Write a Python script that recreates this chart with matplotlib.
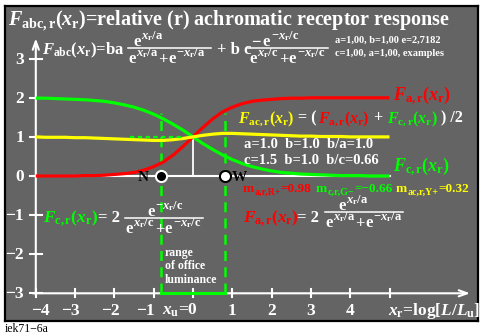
import matplotlib
matplotlib.use('Agg')
import matplotlib.pyplot as plt
from matplotlib.lines import Line2D

plt.rcParams['mathtext.fontset'] = 'custom'
plt.rcParams['mathtext.rm'] = 'Liberation Serif:bold'
plt.rcParams['mathtext.it'] = 'Liberation Serif:italic:bold'
plt.rcParams['mathtext.bf'] = 'Liberation Serif:bold'
plt.rcParams['font.family'] = ['Liberation Serif', 'DejaVu Serif']
plt.rcParams['font.weight'] = 'bold'

# ---------------- data ----------------
x_r = [-4.0, -3.75, -3.5, -3.25, -3.0, -2.75, -2.5, -2.25, -2.0, -1.75, -1.5, -1.25,
       -1.0, -0.75, -0.5, -0.25, 0.0, 0.25, 0.5, 0.75, 1.0, 1.25, 1.5, 1.75, 2.0,
       2.25, 2.5, 2.75, 3.0, 3.25, 3.5, 3.75, 4.0, 4.25, 4.5, 4.75, 5.0]
F_a = [0.00, 0.00, 0.00, 0.00, 0.00, 0.01, 0.01, 0.02, 0.04, 0.06, 0.09, 0.15,
       0.24, 0.36, 0.54, 0.76, 1.00, 1.24, 1.46, 1.64, 1.76, 1.85, 1.91, 1.94, 1.96,
       1.98, 1.99, 1.99, 2.00, 2.00, 2.00, 2.00, 2.00, 2.00, 2.00, 2.00, 2.00]
F_c = [1.99, 1.99, 1.98, 1.97, 1.96, 1.95, 1.93, 1.91, 1.87, 1.82, 1.76, 1.68,
       1.58, 1.46, 1.32, 1.17, 1.00, 0.83, 0.68, 0.54, 0.42, 0.32, 0.24, 0.18, 0.13,
       0.09, 0.07, 0.05, 0.04, 0.03, 0.02, 0.01, 0.01, 0.01, 0.00, 0.00, 0.00]
F_ac = [1.00, 0.99, 0.99, 0.99, 0.98, 0.98, 0.97, 0.96, 0.95, 0.94, 0.93, 0.92,
        0.91, 0.91, 0.93, 0.96, 1.00, 1.04, 1.07, 1.09, 1.09, 1.08, 1.07, 1.06, 1.05,
        1.04, 1.03, 1.02, 1.02, 1.01, 1.01, 1.01, 1.00, 1.00, 1.00, 1.00, 1.00]

x_ticks = [-4, -3, -2, -1, 0, 1, 2, 3, 4, 5]
x_tick_labels = ['\u22124', '\u22123', '\u22122', '\u22121', '$x_\\mathrm{u}$=0',
                 '1', '2', '3', '4', '']
y_ticks = [-3, -2, -1, 0, 1, 2, 3]
y_tick_labels = ['\u22123', '\u22122', '\u22121', '0', '1', '2', '3']
office_range = [-0.81, 0.81]     # N and W points
point_labels = ['N', 'W']
crossing = [0.0, 1.0]
m_values = ['=0.98', '=\u22120.66', '=0.32']

# ---------------- layout ----------------
W, H = 486, 336
fig = plt.figure(figsize=(W / 100, H / 100), dpi=100)
fig.patch.set_facecolor('white')

PX0, PY0, SX, SY = 193.0, 176.0, 39.3, 39.1   # pixel of x=0,y=0 and px per unit
L, R, T, B = 5, 478, 6, 321
ax = fig.add_axes([L / W, 1 - B / H, (R - L) / W, (B - T) / H])
ax.set_xlim((L - PX0) / SX, (R - PX0) / SX)
ax.set_ylim((PY0 - B) / SY, (PY0 - T) / SY)
ax.set_facecolor('#646464')
for s in ax.spines.values():
    s.set_color('black')
    s.set_linewidth(1.6)
ax.set_xticks([])
ax.set_yticks([])

GREEN = '#00ff00'
RED = '#ff0000'
YELLOW = '#ffff00'
WHITE = 'white'

# axes lines with arrows
ax.annotate('', xy=(7.05, y_ticks[0]), xytext=(x_ticks[0] - 0.08, y_ticks[0]),
            arrowprops=dict(arrowstyle='->,head_length=0.6,head_width=0.22',
                            color=WHITE, lw=1.5, shrinkA=0, shrinkB=0))
ax.annotate('', xy=(x_ticks[0], 3.52), xytext=(x_ticks[0], y_ticks[0] - 0.05),
            arrowprops=dict(arrowstyle='->,head_length=0.6,head_width=0.22',
                            color=WHITE, lw=1.5, shrinkA=0, shrinkB=0))
for xt in x_ticks:
    ax.plot([xt, xt], [y_ticks[0] - 0.1, y_ticks[0] + 0.12], color=WHITE, lw=1.5)
for yt in y_ticks:
    ax.plot([x_ticks[0] - 0.15, x_ticks[0] + 0.15], [yt, yt], color=WHITE, lw=1.5)

# zero line and crossing marker line
ax.plot([x_r[0], x_r[-1]], [0, 0], color=WHITE, lw=1.5, zorder=2)
ax.plot([crossing[0], crossing[0]], [0, crossing[1]], color=WHITE, lw=1.3, zorder=2)

# office luminance range
for xo in office_range:
    ax.plot([xo, xo], [y_ticks[0], 1.6], color=GREEN, lw=1.8,
            linestyle=(0, (4, 2.5)), zorder=3)
ax.plot(office_range, [y_ticks[0], y_ticks[0]], color=GREEN, lw=2.2, zorder=4)
ax.plot([-1.6, -0.25], [1, 1], color=GREEN, lw=1.6, linestyle=(0, (2, 1.5)), zorder=5)

# curves
ax.plot(x_r, F_a, color=RED, lw=2.3, zorder=4, solid_capstyle='butt')
ax.plot(x_r, F_c, color=GREEN, lw=2.3, zorder=4, solid_capstyle='butt')
ax.plot(x_r, F_ac, color=YELLOW, lw=2.3, zorder=4.5, solid_capstyle='butt')

# N / W points
ax.plot([office_range[0]], [0], 'o', ms=8, mfc='black', mec=WHITE, mew=1.5, zorder=6)
ax.plot([office_range[1]], [0], 'o', ms=8, mfc=WHITE, mec='black', mew=1.5, zorder=6)

# ---------------- texts ----------------
def ftext(px, py, s, fs, color=WHITE, ha='left', va='baseline', **kw):
    return fig.text(px / W, 1 - py / H, s, fontsize=fs, color=color, ha=ha, va=va,
                    fontweight='bold', **kw)

renderer = fig.canvas.get_renderer()

def rich(px, py, parts):
    """parts: (text, color, fontsize, dy_px, gap_px)"""
    x = px
    for s, c, fs, dy, gap in parts:
        t = ftext(x, py + dy, s, fs, color=c)
        x += t.get_window_extent(renderer=renderer).width + gap
    return x

E_FS, S_FS, S_DY = 12, 9, -7

def exp_parts(sup):
    return [('e', WHITE, E_FS, 0, 1), (sup, WHITE, S_FS, S_DY, 0)]

SUP_A = '$x_\\mathrm{r}/\\mathrm{a}$'
NSUP_A = '$-x_\\mathrm{r}/\\mathrm{a}$'
SUP_C = '$x_\\mathrm{r}/\\mathrm{c}$'
NSUP_C = '$-x_\\mathrm{r}/\\mathrm{c}$'

def denom(sup1, sup2):
    return exp_parts(sup1) + [('+', WHITE, E_FS, 1.5, 0)] + exp_parts(sup2)

def frac(xl, xr, ybar, num_parts, den_parts, numx, denx):
    fig.add_artist(Line2D([xl / W, xr / W], [1 - ybar / H] * 2, color=WHITE, lw=1.1,
                          transform=fig.transFigure))
    rich(numx, ybar - 1.5, num_parts)
    rich(denx, ybar + 15, den_parts)

# tick labels
xoff = {-4: 14, -1: 1, 0: 5}
for xt, lab in zip(x_ticks, x_tick_labels):
    if lab:
        px = PX0 + xt * SX
        if xt <= 0:
            ftext(px + xoff.get(xt, 5), 315, lab, 12.5, ha='right')
        else:
            ftext(px, 315, lab, 12.5, ha='center')
for yt, lab in zip(y_ticks, y_tick_labels):
    ftext(24, PY0 - yt * SY + 5, lab, 12.5, ha='right')
ftext(388, 315, r'$x_\mathrm{r}$=log[$L/L_\mathrm{u}$]', 12.5)

# title
ftext(8, 25.5, r'$F_\mathrm{abc,r}(x_\mathrm{r})$=relative (r) achromatic receptor response', 14.5)

# general formula
ftext(42, 54, r'$F_\mathrm{abc}(x_\mathrm{r})$=ba', 12)
frac(128, 211, 48, exp_parts(SUP_A), denom(SUP_A, NSUP_A), 133, 128)
ftext(217, 54, '+ b c', 12)
frac(248, 328, 48, [('\u2212', WHITE, E_FS, 0, 2)] + exp_parts(NSUP_C),
     denom(SUP_C, NSUP_C), 251, 249)
ftext(335, 43, 'a=1,00, b=1,00 e=2,7182', 7.5)
ftext(335, 56, 'c=1,00, a=1,00, examples', 7.5)

# curve labels
ftext(393, 100, r'$F_\mathrm{a,r}(x_\mathrm{r})$', 13, color=RED)
ftext(393, 171, r'$F_\mathrm{c,r}(x_\mathrm{r})$', 13, color=GREEN)
rich(238, 122, [(r'$F_\mathrm{ac,r}(x_\mathrm{r})$', YELLOW, 11.5, 0, 4),
                ('= (', WHITE, 11.5, 0, 1),
                (r'$F_\mathrm{a,r}(x_\mathrm{r})$', RED, 11.5, 0, 4),
                ('+', WHITE, 11.5, 0, 4),
                (r'$F_\mathrm{c,r}(x_\mathrm{r})$', GREEN, 11.5, 0, 3),
                (') /2', WHITE, 11.5, 0, 0)])
ftext(244, 148, 'a=1.0  b=1.0  b/a=1.0', 10.5)
ftext(244, 164, 'c=1.5  b=1.0  b/c=0.66', 10.5)
rich(243, 192, [('m', RED, 9.5, 0, 0), ('a,r,R+', RED, 7.2, 3, 0), (m_values[0], RED, 9.5, 0, 0)])
rich(316, 192, [('m', GREEN, 9.5, 0, 0), ('c,r,G\u2212', GREEN, 7.2, 3, 0), (m_values[1], GREEN, 9.5, 0, 0)])
rich(396, 192, [('m', YELLOW, 9.5, 0, 0), ('ac,r,Y+', YELLOW, 7.2, 3, 0), (m_values[2], YELLOW, 9.5, 0, 0)])

# component formulas
ftext(243, 222, r'$F_\mathrm{a,r}(x_\mathrm{r})$', 12.5, color=RED)
ftext(297, 222, '= 2', 12)
frac(325, 403, 212, exp_parts(SUP_A), denom(SUP_A, NSUP_A), 338, 325)
ftext(43, 222, r'$F_\mathrm{c,r}(x_\mathrm{r})$', 12.5, color=GREEN)
ftext(98, 222, '= 2', 12)
frac(125, 203, 218, exp_parts(NSUP_C), denom(SUP_C, NSUP_C), 147, 125)

# point labels and range text
ftext(149, 181, point_labels[0], 11, color='black', ha='right')
ftext(232, 181, point_labels[1], 11, color='black')
ftext(165, 256, 'range', 8.5)
ftext(165, 269, 'of office', 8.5)
ftext(165, 283, 'luminance', 8.5)

fig.text(5 / W, 1 - 332 / H, 'iek71\u22126a', fontsize=8.5, color='black',
         fontweight='normal', ha='left', va='baseline')

fig.savefig('out.png', dpi=100, facecolor='white')
